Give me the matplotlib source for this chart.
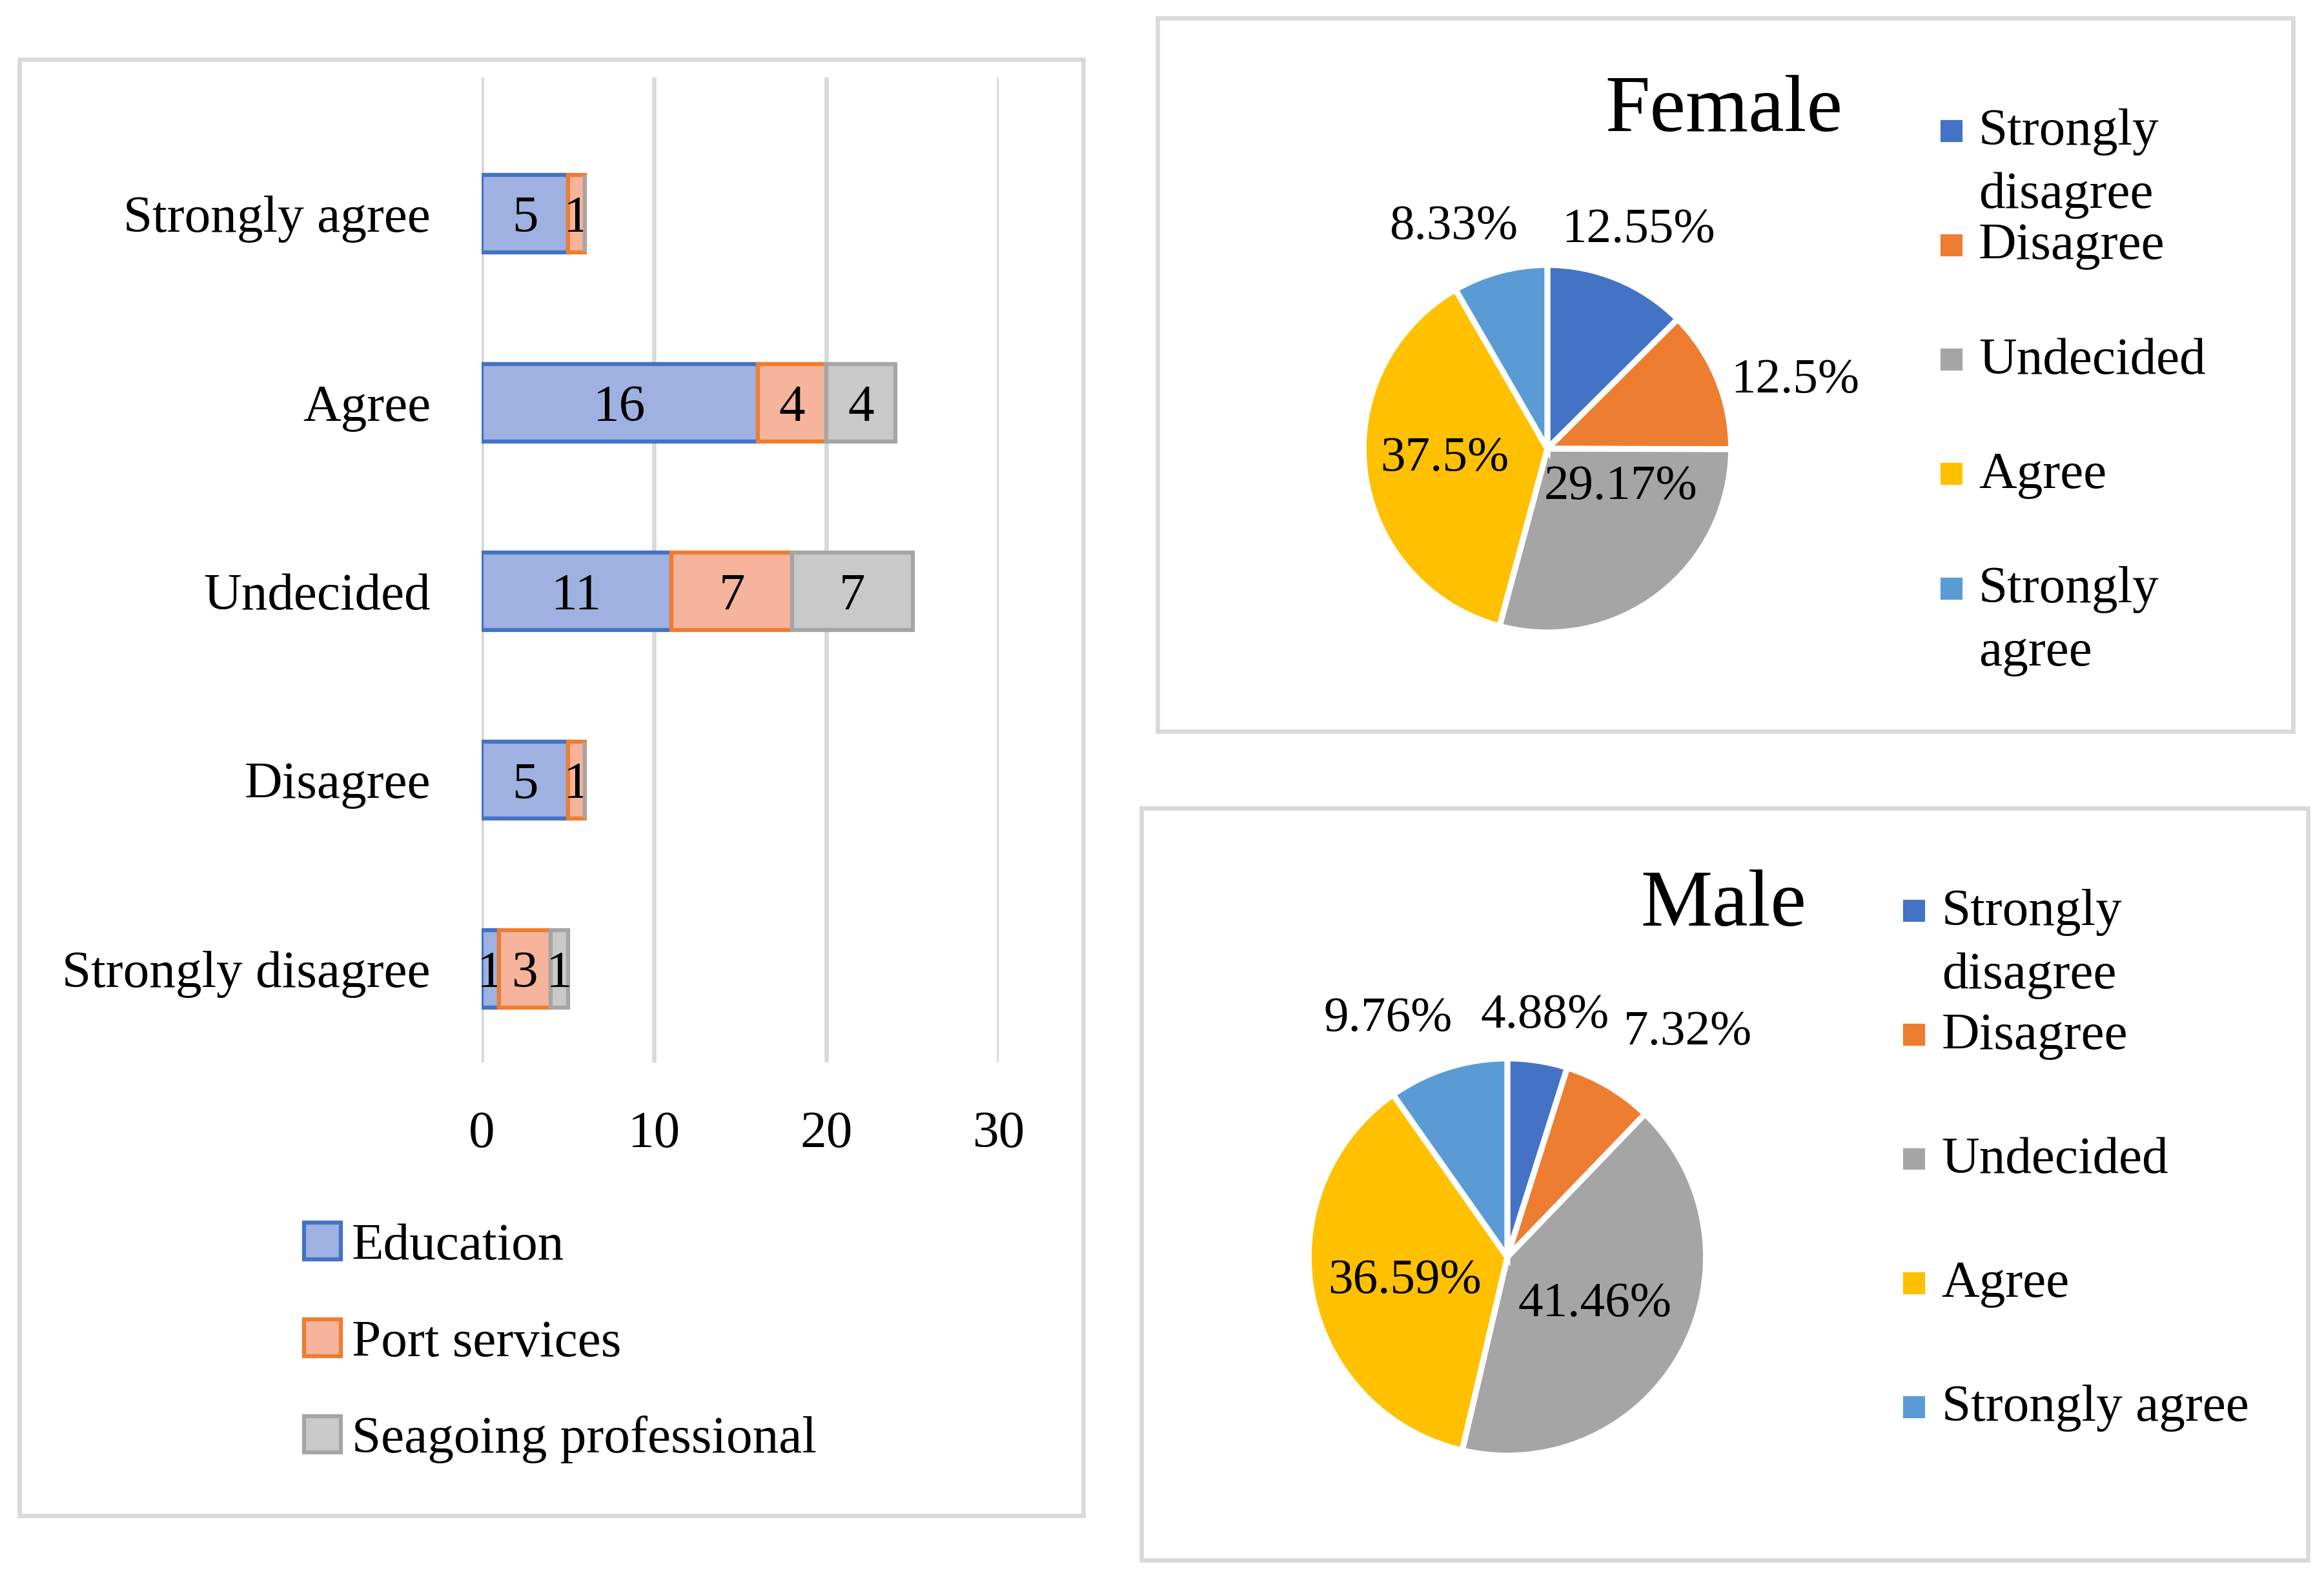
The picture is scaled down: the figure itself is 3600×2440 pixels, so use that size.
import numpy as np
from matplotlib import pyplot as plt
from matplotlib.patches import Rectangle

# bar chart data
categories = ["Strongly disagree", "Disagree", "Undecided", "Agree", "Strongly agree"]
education = [1, 5, 11, 16, 5]
port_services = [3, 1, 7, 4, 1]
seagoing = [1, 0, 7, 4, 0]
bar_ticks = [0, 10, 20, 30]

# pie chart data (percent)
pie_labels = ["Strongly disagree", "Disagree", "Undecided", "Agree", "Strongly agree"]
legend_labels = ["Strongly\ndisagree", "Disagree", "Undecided", "Agree", "Strongly\nagree"]
female = [12.55, 12.5, 29.17, 37.5, 8.33]
male = [4.88, 7.32, 41.46, 36.59, 9.76]

pie_colors = ["#4472C4", "#ED7D31", "#A5A5A5", "#FFC000", "#5B9BD5"]

plt.rcParams["font.family"] = ["Liberation Serif", "DejaVu Serif"]

W, H = 1568.0, 1060.0  # layout units (reference pixels)


def fx(x):
    return x / W


def fy(y):
    return 1 - y / H


def box(fig, x0, y0, x1, y1):
    fig.patches.append(Rectangle((fx(x0), fy(y1)), fx(x1) - fx(x0), fy(y0) - fy(y1),
                                 transform=fig.transFigure, fill=False,
                                 edgecolor="#D9D9D9", lw=1.6, zorder=0))


fig = plt.figure(figsize=(12, 2440 / 300), dpi=300)

# ---- left: stacked bars ----
box(fig, 13, 40, 731, 1020)
ax = fig.add_axes([fx(325), fy(715), fx(674) - fx(325), fy(52) - fy(715)])
y = np.arange(len(categories))
series = [("Education", education, "#9FB1E0", "#4472C4"),
          ("Port services", port_services, "#F5B49B", "#ED7D31"),
          ("Seagoing professional", seagoing, "#C9C9C9", "#A5A5A5")]
left = np.zeros(len(categories))
for name, vals, face, edge in series:
    vals = np.array(vals)
    bars = ax.barh(y, vals, left=left, height=0.41, color=face, edgecolor=edge,
                   lw=1.5, label=name, zorder=3)
    txt = ax.bar_label(bars, labels=[str(v) if v else "" for v in vals],
                       label_type="center", fontsize=19.5, color="black")
    for t in txt:
        t.set_va("center_baseline")
    left += vals

ax.set_xlim(0, 30)
ax.set_ylim(-0.496, 4.724)
ax.set_xticks(bar_ticks)
ax.set_yticks(y)
ax.set_yticklabels(categories)
ax.tick_params(length=0, labelsize=19.5, pad=19)
ax.tick_params(axis="x", pad=18)
ax.grid(axis="x", color="#D9D9D9", lw=1.6, zorder=0)
for s in ax.spines.values():
    s.set_visible(False)

ax.legend(loc="upper left", bbox_to_anchor=(fx(205), fy(823)),
          bbox_transform=fig.transFigure, frameon=False, fontsize=19.5,
          handlelength=0.71, handleheight=0.7, handletextpad=0.2,
          labelspacing=0.93, borderpad=0, borderaxespad=0)


# ---- right: pies ----
def draw_pie(cx, cy, R, vals, title, title_y, rfac, dang, leg_x, leg_y0, leg_dy):
    pax = fig.add_axes([fx(cx - R), fy(cy + R), 2 * R / W, 2 * R / H])
    wedges, _ = pax.pie(vals, colors=pie_colors, startangle=90, counterclock=False,
                        radius=1, wedgeprops=dict(edgecolor="white", lw=2.2))
    pax.set_xlim(-1, 1)
    pax.set_ylim(-1, 1)
    for w, v, rf, da in zip(wedges, vals, rfac, dang):
        ang = np.deg2rad((w.theta1 + w.theta2) / 2 + da)
        pax.text(rf * np.cos(ang), rf * np.sin(ang), f"{v:g}%",
                 ha="center", va="center", fontsize=18.5)
    fig.text(fx(1163), fy(title_y), title, ha="center", va="center", fontsize=30)
    for i, lab in enumerate(legend_labels):
        yc = leg_y0 + i * leg_dy
        fig.patches.append(Rectangle((fx(leg_x), fy(yc + 6.5)), 13 / W, 13 / H,
                                     transform=fig.transFigure, color=pie_colors[i]))
        fig.text(fx(leg_x + 25), fy(yc - 15), lab, ha="left", va="top",
                 fontsize=19.5, linespacing=1.45)
    return pax


box(fig, 781, 12, 1547, 492)
draw_pie(1044, 302, 124, female, "Female", 75,
         [1.29, 1.4, 0.45, 0.56, 1.31], [0, -7, 25, -2, 8],
         1310, 88, 77)

box(fig, 770, 544, 1557, 1050)
legend_labels[4] = "Strongly agree"
draw_pie(1017, 846, 134, male, "Male", 610,
         [1.23, 1.45, 0.5, 0.53, 1.34], [0, -8, 0, 2, 9],
         1285, 613, 83.5)

plt.savefig("out.png", dpi=300)
